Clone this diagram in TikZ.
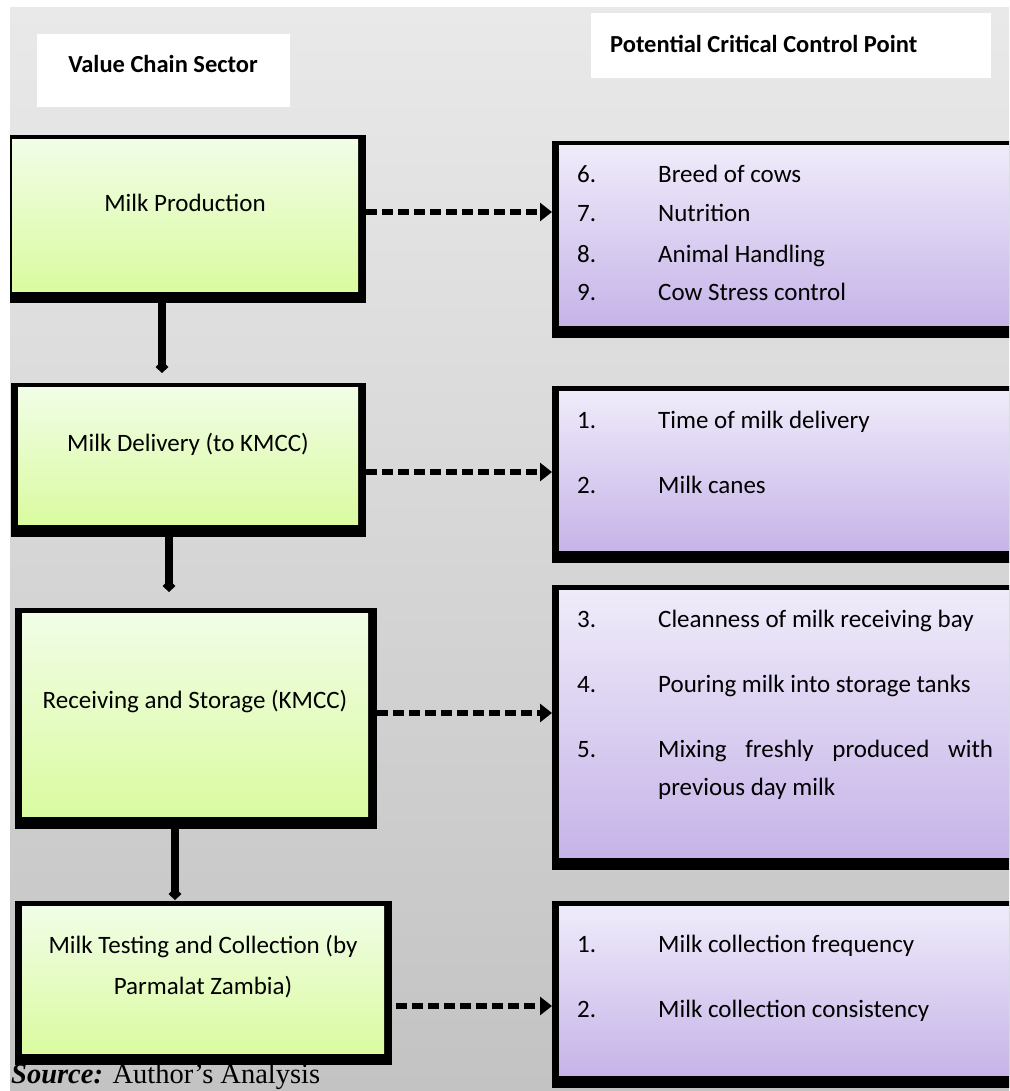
\documentclass[tikz,border=0pt]{standalone}
\usepackage{fontspec}
\setmainfont{Carlito}
\newfontfamily\srcfont{Liberation Serif}
\usetikzlibrary{arrows.meta}
\definecolor{bgtop}{HTML}{E9E9E9}
\definecolor{bgbot}{HTML}{C3C3C3}
\definecolor{gtop}{HTML}{F1FDE7}
\definecolor{gbot}{HTML}{DAFBA0}
\definecolor{ptop}{HTML}{EFEBFA}
\definecolor{pbot}{HTML}{C6B4E8}
\begin{document}
\begin{tikzpicture}[x=1pt,y=-1pt,
  outerbox/.style={fill=black, inner sep=0pt, outer sep=0pt, anchor=north west},
  whitebox/.style={fill=white, inner sep=0pt, outer sep=0pt, anchor=north west},
  greenfill/.style={top color=gtop, bottom color=gbot},
  purplefill/.style={top color=ptop, bottom color=pbot},
  titletext/.style={font=\bfseries\fontsize{24.5}{30}\selectfont, inner sep=0pt},
  lt/.style={font=\fontsize{25}{41}\selectfont, anchor=base, inner sep=0pt},
  it/.style={font=\fontsize{25}{38}\selectfont, anchor=base west, inner sep=0pt},
  vline/.style={line width=8pt, -{Diamond[length=12pt,width=13pt]}},
  dashar/.style={line width=6pt, dash pattern=on 11pt off 5pt, -{Triangle[length=12pt,width=18pt]}}]
\useasboundingbox (0,0) rectangle (1009,1091);
\clip (10,8) rectangle (1009,1091);
\shade[top color=bgtop, bottom color=bgbot] (10,8) rectangle (1009,1091);

% headers
\node[whitebox, minimum width=253pt, minimum height=73pt] (vcs) at (37,34) {};
\node[titletext, anchor=base] (vcst) at (163,73) {Value Chain Sector};
\node[whitebox, minimum width=400pt, minimum height=65pt] (pcc) at (591,13) {};
\node[titletext, anchor=base west] (pcct) at (610,53) {Potential Critical Control Point};

% left boxes
\node[outerbox, minimum width=361pt, minimum height=168pt] (p1) at (5,135) {};
\shade[greenfill] ([xshift=7pt,yshift=-5pt]p1.north west) rectangle ([xshift=-8pt,yshift=12pt]p1.south east);
\node[outerbox, minimum width=355pt, minimum height=154pt] (p2) at (11,383) {};
\shade[greenfill] ([xshift=7pt,yshift=-4pt]p2.north west) rectangle ([xshift=-8pt,yshift=13pt]p2.south east);
\node[outerbox, minimum width=362pt, minimum height=221pt] (p3) at (15,608) {};
\shade[greenfill] ([xshift=7pt,yshift=-5pt]p3.north west) rectangle ([xshift=-9pt,yshift=13pt]p3.south east);
\node[outerbox, minimum width=377pt, minimum height=164pt] (p4) at (15,901) {};
\shade[greenfill] ([xshift=7pt,yshift=-5pt]p4.north west) rectangle ([xshift=-8pt,yshift=12pt]p4.south east);

\node[lt] (t1) at (185,212) {Milk Production};
\node[lt] (t2) at (188,451) {Milk Delivery (to KMCC)};
\node[lt] (t3) at (195,708) {Receiving and Storage (KMCC)};
\node[lt] (t4) at (203,953) {\begin{tabular}[t]{@{}c@{}}Milk Testing and Collection (by\\Parmalat Zambia)\end{tabular}};

% right boxes
\node[outerbox, minimum width=500pt, minimum height=197pt] (r1) at (552,141) {};
\shade[purplefill] ([xshift=7pt,yshift=-5pt]r1.north west) rectangle ([xshift=-8pt,yshift=13pt]r1.south east);
\node[outerbox, minimum width=500pt, minimum height=177pt] (r2) at (552,386) {};
\shade[purplefill] ([xshift=7pt,yshift=-5pt]r2.north west) rectangle ([xshift=-8pt,yshift=13pt]r2.south east);
\node[outerbox, minimum width=500pt, minimum height=285pt] (r3) at (552,585) {};
\shade[purplefill] ([xshift=7pt,yshift=-5pt]r3.north west) rectangle ([xshift=-8pt,yshift=13pt]r3.south east);
\node[outerbox, minimum width=500pt, minimum height=187pt] (r4) at (552,901) {};
\shade[purplefill] ([xshift=7pt,yshift=-5pt]r4.north west) rectangle ([xshift=-8pt,yshift=13pt]r4.south east);

\node[it] (i6) at (577,183) {\makebox[81pt][l]{6.}Breed of cows};
\node[it] (i7) at (577,222) {\makebox[81pt][l]{7.}Nutrition};
\node[it] (i8) at (577,262) {\makebox[81pt][l]{8.}Animal Handling};
\node[it] (i9) at (577,300) {\makebox[81pt][l]{9.}Cow Stress control};
\node[it] (i1) at (577,428) {\makebox[81pt][l]{1.}Time of milk delivery};
\node[it] (i2) at (577,493) {\makebox[81pt][l]{2.}Milk canes};
\node[it] (i3) at (577,627) {\makebox[81pt][l]{3.}Cleanness of milk receiving bay};
\node[it] (i4) at (577,692) {\makebox[81pt][l]{4.}Pouring milk into storage tanks};
\node[it] (i5) at (577,757) {\makebox[81pt][l]{5.}\begin{tabular}[t]{@{}l@{}}\hbox to 335pt{Mixing\hfill freshly\hfill produced\hfill with}\\previous day milk\end{tabular}};
\node[it] (j1) at (577,952) {\makebox[81pt][l]{1.}Milk collection frequency};
\node[it] (j2) at (577,1017) {\makebox[81pt][l]{2.}Milk collection consistency};

% vertical connectors
\coordinate (v1) at ([xshift=-23.5pt]p1.south);
\draw[vline, shorten >=10pt] (v1) -- (v1 |- p2.north);
\coordinate (v2) at ([xshift=-19.5pt]p2.south);
\draw[vline, shorten >=16pt] (v2) -- (v2 |- p3.north);
\coordinate (v3) at ([xshift=-21pt]p3.south);
\draw[vline, shorten >=1pt] (v3) -- (v3 |- p4.north);

% dashed connectors
\coordinate (d1) at ([yshift=7pt]p1.east);
\draw[dashar] (d1) -- (d1 -| r1.west);
\coordinate (d2) at ([yshift=-12pt]p2.east);
\draw[dashar] (d2) -- (d2 -| r2.west);
\coordinate (d3) at ([yshift=5.5pt]p3.east);
\draw[dashar] (d3) -- (d3 -| r3.west);
\coordinate (d4) at ([xshift=4pt,yshift=-23pt]p4.east);
\draw[dashar] (d4) -- (d4 -| r4.west);

% source
\node[anchor=base west, inner sep=0pt, font=\srcfont\fontsize{28.5}{30}\selectfont] (src) at (11,1083) {\textbf{\textit{Source:}} Author’s Analysis};
\end{tikzpicture}
\end{document}
